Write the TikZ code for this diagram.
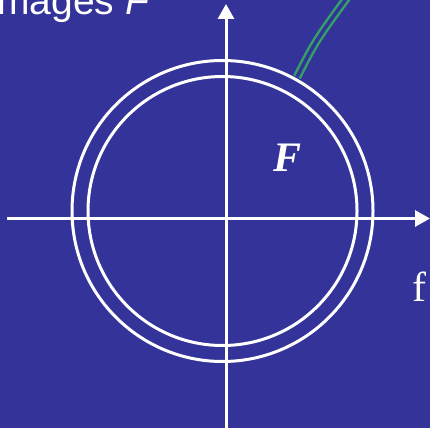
\documentclass[tikz,border=0pt]{standalone}
\usepackage{fontspec}
\setmainfont{Liberation Serif}
\setsansfont{Liberation Sans}
\usetikzlibrary{arrows.meta}
\definecolor{slideblue}{RGB}{51,51,153}
\definecolor{linkgreen}{RGB}{51,160,102}

\begin{document}
\begin{tikzpicture}[x=1pt, y=1pt,
  axis/.style={white, line width=3pt, -{Triangle[length=15pt,width=16pt]}},
  ring/.style={white, line width=3pt},
  label/.style={text=white, inner sep=0pt}]
  \fill[slideblue] (0,0) rectangle (430,428);
  \useasboundingbox (0,0) rectangle (430,428);
  \clip (0,0) rectangle (430,428);
  \coordinate (west) at (7,209.5);
  \coordinate (east) at (430,209.5);
  \coordinate (south) at (226,-2);
  \coordinate (north) at (226,424);
  \coordinate (centre) at (222.5,217);
  \draw[ring] (centre) circle (150.5);
  \draw[ring] (centre) circle (134.5);
  \draw[axis] (west) -- (east);
  \draw[axis] (south) -- (north);
  \node[label, anchor=base east, font=\sffamily\fontsize{39}{39}\selectfont] (title) at (151,413) {Images \textit{F}};
  \node[label, anchor=base west, font=\bfseries\itshape\fontsize{42}{42}\selectfont] (F) at (273,256) {F};
  \node[label, anchor=base west, font=\fontsize{42}{42}\selectfont] (f) at (412,126) {f};
  \coordinate (linkfoot) at (297,351);
  \coordinate (linkend) at (354,440);
  \draw[linkgreen, line width=2.5pt, double=slideblue, double distance=3.5pt]
    (linkfoot) .. controls (316,388) .. (linkend);
\end{tikzpicture}
\end{document}
